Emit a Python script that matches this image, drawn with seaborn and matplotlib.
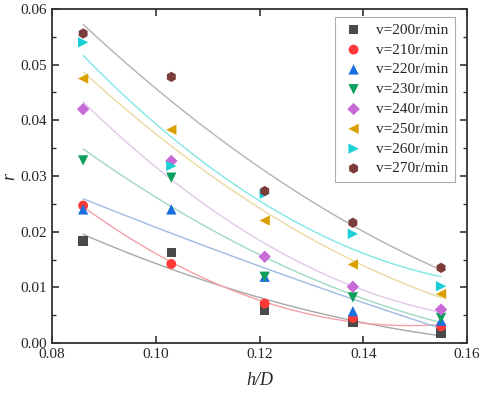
import numpy as np
import pandas as pd
import matplotlib
matplotlib.use("Agg")
import matplotlib.pyplot as plt
import seaborn as sns
from matplotlib.ticker import MultipleLocator

# data
h_D = [0.086, 0.103, 0.121, 0.138, 0.155]
speeds = [200, 210, 220, 230, 240, 250, 260, 270]
r_200 = [0.0183, 0.0163, 0.0059, 0.0037, 0.0018]
r_210 = [0.0247, 0.0142, 0.0071, 0.0045, 0.0030]
r_220 = [0.0240, 0.0240, 0.0119, 0.0057, 0.0040]
r_230 = [0.0328, 0.0297, 0.0119, 0.0082, 0.0045]
r_240 = [0.0420, 0.0327, 0.0155, 0.0101, 0.0060]
r_250 = [0.0475, 0.0383, 0.0220, 0.0141, 0.0088]
r_260 = [0.0540, 0.0318, 0.0268, 0.0196, 0.0102]
r_270 = [0.0556, 0.0478, 0.0273, 0.0216, 0.0135]
series = [r_200, r_210, r_220, r_230, r_240, r_250, r_260, r_270]

marker_colors = ["#4a4a4a", "#ff3838", "#1a6fe0", "#0c9e5c", "#c86ad8", "#dba000", "#1ad0d6", "#7d3c3c"]
line_colors = ["#a8a8a8", "#f4a0a8", "#9dbbe0", "#9fd8c4", "#e0c8e6", "#ecd9a0", "#80e6e6", "#b8b0b0"]
markers = ["s", "o", "^", "v", "D", "<", ">", "h"]
msizes = [45, 50, 55, 55, 40, 55, 55, 55]

rows = []
for v, vals in zip(speeds, series):
    for x, y in zip(h_D, vals):
        rows.append({"h_D": x, "r": y, "v": f"v={v}r/min"})
df = pd.DataFrame(rows)

sns.set_style("ticks")
plt.rcParams["font.family"] = ["Liberation Serif", "DejaVu Serif"]

fig = plt.figure(figsize=(4.84, 3.96), dpi=100)
ax = fig.add_axes([52 / 484, 1 - 343 / 396, (467 - 52) / 484, (343 - 9) / 396])

# fitted curves (quadratic fit of each series)
xs = np.linspace(h_D[0], h_D[-1], 60)
for vals, lc in zip(series, line_colors):
    coef = np.polyfit(h_D, vals, 2)
    sns.lineplot(x=xs, y=np.polyval(coef, xs), color=lc, lw=1.0, ax=ax, legend=False)

for i, v in enumerate(speeds):
    sub = df[df["v"] == f"v={v}r/min"]
    sns.scatterplot(data=sub, x="h_D", y="r", marker=markers[i], color=marker_colors[i],
                    s=msizes[i], edgecolor="none", label=f"v={v}r/min", ax=ax, zorder=3)

ax.set_xlim(0.08, 0.16)
ax.set_ylim(0.0, 0.06)
ax.xaxis.set_major_locator(MultipleLocator(0.02))
ax.yaxis.set_major_locator(MultipleLocator(0.01))
ax.yaxis.set_minor_locator(MultipleLocator(0.005))
ax.xaxis.set_major_formatter(matplotlib.ticker.FormatStrFormatter("%.2f"))
ax.yaxis.set_major_formatter(matplotlib.ticker.FormatStrFormatter("%.2f"))
ax.tick_params(which="both", direction="in", top=True, right=True, labelsize=11, color="#333333")
ax.tick_params(which="major", length=5, width=1.2)
ax.tick_params(which="minor", length=3, width=1.0)
for sp in ax.spines.values():
    sp.set_linewidth(1.3)
    sp.set_color("#333333")

ax.set_xlabel("h/D", fontstyle="italic", fontsize=13, labelpad=8)
ax.set_ylabel("r", fontstyle="italic", fontsize=13)
ax.yaxis.set_label_coords(-0.082, 0.5)

leg = ax.legend(loc="upper right", fontsize=11, frameon=True, fancybox=False,
                edgecolor="#999999", handletextpad=0.7, labelspacing=0.4,
                borderpad=0.4, handlelength=1.6, borderaxespad=0,
                bbox_to_anchor=(0.971, 0.976))
leg.get_frame().set_linewidth(0.8)

fig.savefig("out.png", dpi=100)
